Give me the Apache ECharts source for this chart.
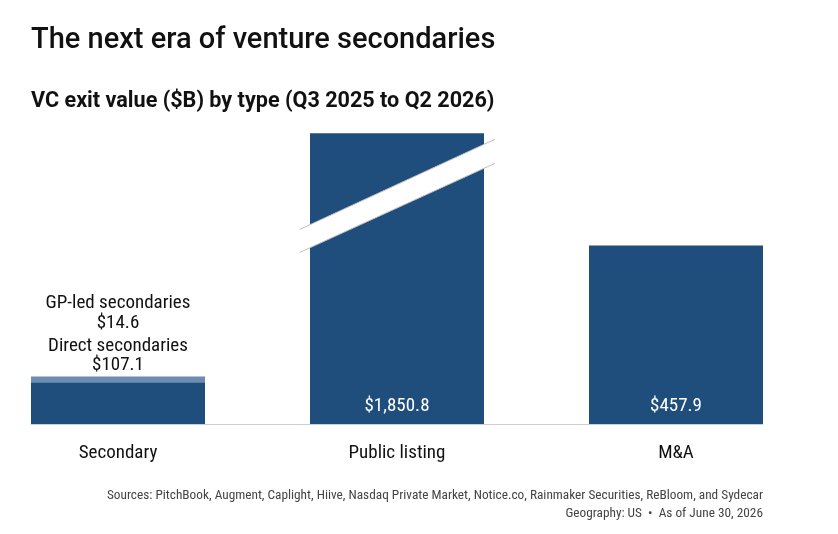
<!DOCTYPE html>
<html>
<head>
<meta charset="utf-8">
<script src="https://cdn.jsdelivr.net/npm/echarts@6/dist/echarts.min.js"></script>
<style>
  html, body { margin: 0; padding: 0; background: #fff; }
  #chart { width: 838px; height: 534px; }
</style>
</head>
<body>
<div id="chart"></div>
<script>
const categories = ['Secondary', 'Public listing', 'M&A'];
const directValues = [107.1, '-', '-'];
const gpLedValues = [14.6, '-', '-'];
const exitValues = ['-', 1850.8, 457.9];

const condensed = '"Roboto Condensed", "Liberation Sans Narrow", "DejaVu Sans Condensed", Roboto, sans-serif';
const dark = '#1f4e7d';
const light = '#6c8cb1';

const chart = echarts.init(document.getElementById('chart'), null, { renderer: 'canvas' });

function money(v) {
  return '$' + v.toLocaleString('en-US', { minimumFractionDigits: 1, maximumFractionDigits: 1 });
}

const noteStyle = { fontFamily: condensed, fontWeight: 'normal', fontSize: 13.3, color: '#444' };

const option = {
  animation: false,
  title: [{
    text: 'The next era of venture secondaries',
    left: 31, top: 26, padding: 0,
    textStyle: { fontFamily: 'Roboto', fontWeight: 500, fontSize: 29, color: '#111' }
  }, {
    text: 'VC exit value ($B) by type (Q3 2025 to Q2 2026)',
    left: 31, top: 91, padding: 0,
    textStyle: { fontFamily: 'Roboto', fontWeight: 'bold', fontSize: 21.6, color: '#111' }
  }, {
    text: 'Sources: PitchBook, Augment, Caplight, Hiive, Nasdaq Private Market, Notice.co, Rainmaker Securities, ReBloom, and Sydecar',
    right: 75, top: 489, padding: 0,
    textStyle: noteStyle
  }, {
    text: 'Geography: US  \u2022  As of June 30, 2026',
    right: 75, top: 507, padding: 0,
    textStyle: noteStyle
  }],
  grid: { left: -21.5, right: 22.5, top: 133.3, bottom: 110, outerBoundsMode: 'none' },
  xAxis: {
    type: 'category',
    data: categories,
    axisLine: { show: false },
    axisTick: { show: false },
    axisLabel: { fontFamily: condensed, fontSize: 19, color: '#111', margin: 20 }
  },
  yAxis: {
    type: 'value',
    min: 0, max: 746,
    show: false,
    splitLine: { show: false }
  },
  series: [{
    name: 'Direct secondaries',
    type: 'bar', stack: 'exit', barWidth: 174,
    data: directValues,
    itemStyle: { color: dark },
    label: {
      show: true, position: 'top', distance: 8,
      fontFamily: condensed, fontSize: 19, lineHeight: 19, color: '#111',
      formatter: p => p.seriesName + '\n' + money(p.value)
    }
  }, {
    name: 'GP-led secondaries',
    type: 'bar', stack: 'exit', barWidth: 174,
    data: gpLedValues,
    itemStyle: { color: light },
    label: {
      show: true, position: 'top', distance: 43,
      fontFamily: condensed, fontSize: 19, lineHeight: 20, color: '#111',
      formatter: p => p.seriesName + '\n' + money(p.value)
    }
  }, {
    name: 'Exit value',
    type: 'bar', stack: 'exit', barWidth: 174,
    data: exitValues,
    clip: true,
    itemStyle: { color: dark },
    label: {
      show: true, position: 'insideBottom', distance: 8,
      fontFamily: condensed, fontSize: 19, color: '#fff',
      formatter: p => money(p.value)
    }
  }]
};

chart.setOption(option);

// baseline and axis-break band, placed from the axes' own pixel scale
const half = 87;
const x0 = chart.convertToPixel({ xAxisIndex: 0 }, categories[0]) - half;
const x1 = chart.convertToPixel({ xAxisIndex: 0 }, categories[1]);
const x2 = chart.convertToPixel({ xAxisIndex: 0 }, categories[2]) + half;
const yBase = chart.convertToPixel({ yAxisIndex: 0 }, 0);
const bl = x1 - half - 10, br = x1 + half + 11;
const yTop = chart.convertToPixel({ yAxisIndex: 0 }, 746);
const upL = yTop + 96, upR = yTop + 6;
const loL = yTop + 119, loR = yTop + 30;

chart.setOption({
  graphic: [{
    type: 'line', z: 10,
    shape: { x1: x0, y1: yBase + 0.5, x2: x2, y2: yBase + 0.5 },
    style: { stroke: '#cfcfcf', lineWidth: 1 }
  }, {
    type: 'polygon', z: 10,
    shape: { points: [[bl, upL], [br, upR], [br, loR], [bl, loL]] },
    style: { fill: '#fff' }
  }, {
    type: 'line', z: 11,
    shape: { x1: bl, y1: upL, x2: br, y2: upR },
    style: { stroke: '#bdbdbd', lineWidth: 1 }
  }, {
    type: 'line', z: 11,
    shape: { x1: bl, y1: loL, x2: br, y2: loR },
    style: { stroke: '#bdbdbd', lineWidth: 1 }
  }]
});
</script>
</body>
</html>
